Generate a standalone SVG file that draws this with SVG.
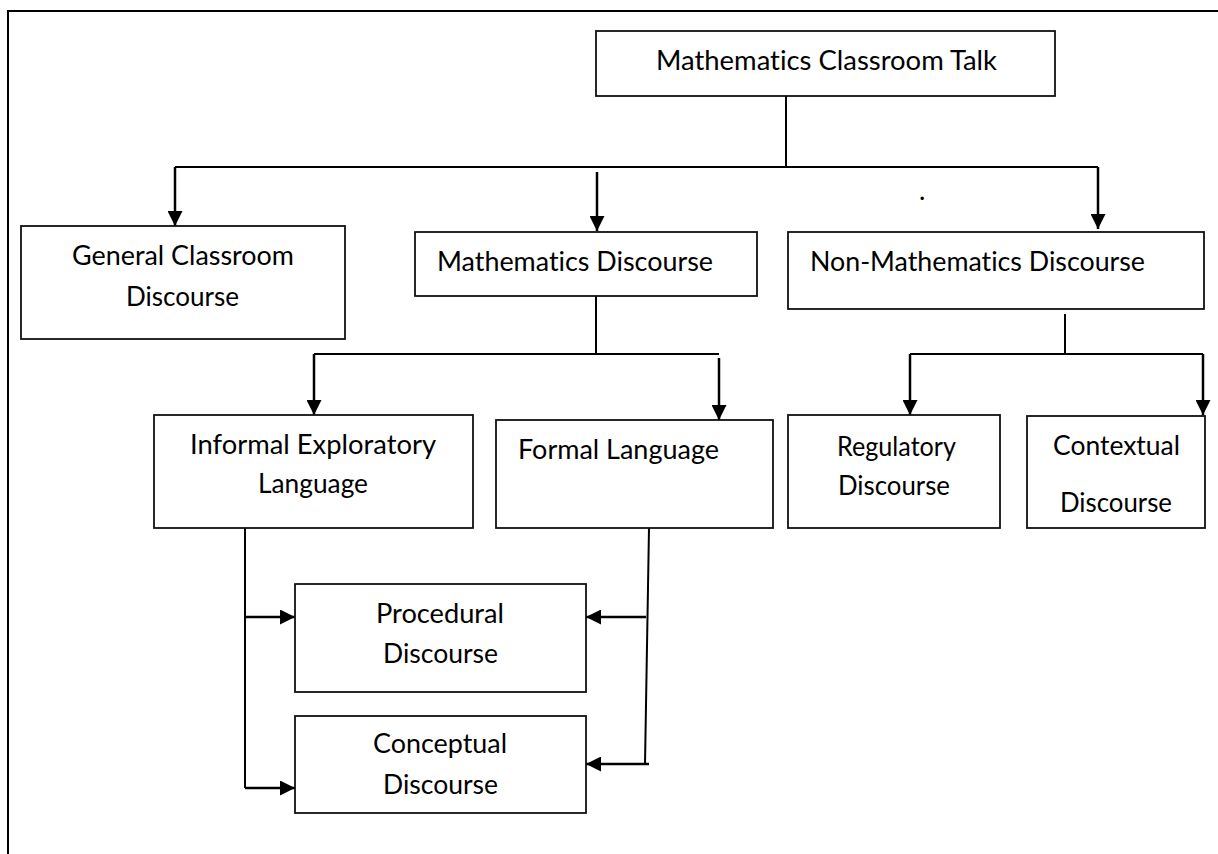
<svg xmlns="http://www.w3.org/2000/svg" width="1218" height="854" viewBox="0 0 1218 854">
  <style>
    .box { fill: #fff; stroke: #111; stroke-width: 1.8; }
    .lbl { font-family: Lato, "Liberation Sans", sans-serif; font-size: 27px; fill: #000; font-variant-ligatures: none; font-feature-settings: "liga" 0, "clig" 0; }
    .wire { fill: none; stroke: #000; stroke-width: 2; }
    .arr { fill: none; stroke: #000; stroke-width: 2.5; marker-end: url(#head); }
    .frame { fill: none; stroke: #000; stroke-width: 2; }
  </style>
  <defs>
    <marker id="head" markerUnits="userSpaceOnUse" markerWidth="16" markerHeight="15" refX="15" refY="7.5" orient="auto">
      <path d="M0,0 L15,7.5 L0,15 Z" fill="#000"/>
    </marker>
  </defs>

  <rect width="1218" height="854" fill="#fff"/>

  <!-- page frame -->
  <path class="frame" d="M8,854 L8,11 L1218,11"/>

  <!-- connectors -->
  <g id="connectors">
    <!-- root to first level -->
    <path class="wire" d="M786,96 L786,167"/>
    <path class="wire" d="M175,167 L1098,167"/>
    <path class="arr" d="M175,167 L175,226"/>
    <path class="arr" d="M597,172 L597,231"/>
    <path class="arr" d="M1098,167 L1098,229"/>

    <!-- mathematics discourse branch -->
    <path class="wire" d="M596,296 L596,354"/>
    <path class="wire" d="M314,354 L719,354"/>
    <path class="arr" d="M314,354 L314,415"/>
    <path class="arr" d="M719,358 L719,420"/>

    <!-- non-mathematics discourse branch -->
    <path class="wire" d="M1065,314 L1065,354"/>
    <path class="wire" d="M910,354 L1203,354"/>
    <path class="arr" d="M910,354 L910,415"/>
    <path class="arr" d="M1203,354 L1203,415"/>

    <!-- informal exploratory language feeds -->
    <path class="wire" d="M245,528 L245,788"/>
    <path class="arr" d="M245,617 L295,617"/>
    <path class="arr" d="M245,788 L295,788"/>

    <!-- formal language feeds -->
    <path class="wire" d="M649,528 L645,764"/>
    <path class="arr" d="M646,617 L586,617"/>
    <path class="arr" d="M649,764 L586,764"/>
  </g>

  <!-- stray mark -->
  <text class="lbl" x="919" y="200" font-size="9" fill="#444">.</text>

  <g id="math-classroom-talk">
    <rect class="box" x="596" y="31" width="459" height="65"/>
    <text class="lbl" x="656" y="70" textLength="341" lengthAdjust="spacingAndGlyphs">Mathematics Classroom Talk</text>
  </g>

  <g id="general-classroom-discourse">
    <rect class="box" x="21" y="226" width="324" height="113"/>
    <text class="lbl" x="72" y="265" textLength="222" lengthAdjust="spacingAndGlyphs">General Classroom</text>
    <text class="lbl" x="126" y="306" textLength="113" lengthAdjust="spacingAndGlyphs">Discourse</text>
  </g>

  <g id="mathematics-discourse">
    <rect class="box" x="415" y="232" width="342" height="64"/>
    <text class="lbl" x="437" y="271" textLength="276" lengthAdjust="spacingAndGlyphs">Mathematics Discourse</text>
  </g>

  <g id="non-mathematics-discourse">
    <rect class="box" x="788" y="232" width="416" height="77"/>
    <text class="lbl" x="810" y="271" textLength="335" lengthAdjust="spacingAndGlyphs">Non-Mathematics Discourse</text>
  </g>

  <g id="informal-exploratory-language">
    <rect class="box" x="154" y="415" width="319" height="113"/>
    <text class="lbl" x="190" y="454" textLength="246" lengthAdjust="spacingAndGlyphs">Informal Exploratory</text>
    <text class="lbl" x="258" y="493" textLength="110" lengthAdjust="spacingAndGlyphs">Language</text>
  </g>

  <g id="formal-language">
    <rect class="box" x="496" y="420" width="277" height="108"/>
    <text class="lbl" x="518" y="459" textLength="201" lengthAdjust="spacingAndGlyphs">Formal Language</text>
  </g>

  <g id="regulatory-discourse">
    <rect class="box" x="788" y="415" width="212" height="113"/>
    <text class="lbl" x="837" y="456" textLength="119" lengthAdjust="spacingAndGlyphs">Regulatory</text>
    <text class="lbl" x="838" y="495" textLength="112" lengthAdjust="spacingAndGlyphs">Discourse</text>
  </g>

  <g id="contextual-discourse">
    <rect class="box" x="1027" y="416" width="178" height="112"/>
    <text class="lbl" x="1053" y="455" textLength="127" lengthAdjust="spacingAndGlyphs">Contextual</text>
    <text class="lbl" x="1060" y="512" textLength="112" lengthAdjust="spacingAndGlyphs">Discourse</text>
  </g>

  <g id="procedural-discourse">
    <rect class="box" x="295" y="584" width="291" height="108"/>
    <text class="lbl" x="376" y="623" textLength="128" lengthAdjust="spacingAndGlyphs">Procedural</text>
    <text class="lbl" x="383" y="663" textLength="115" lengthAdjust="spacingAndGlyphs">Discourse</text>
  </g>

  <g id="conceptual-discourse">
    <rect class="box" x="295" y="716" width="291" height="97"/>
    <text class="lbl" x="373" y="753" textLength="134" lengthAdjust="spacingAndGlyphs">Conceptual</text>
    <text class="lbl" x="383" y="794" textLength="115" lengthAdjust="spacingAndGlyphs">Discourse</text>
  </g>
</svg>
